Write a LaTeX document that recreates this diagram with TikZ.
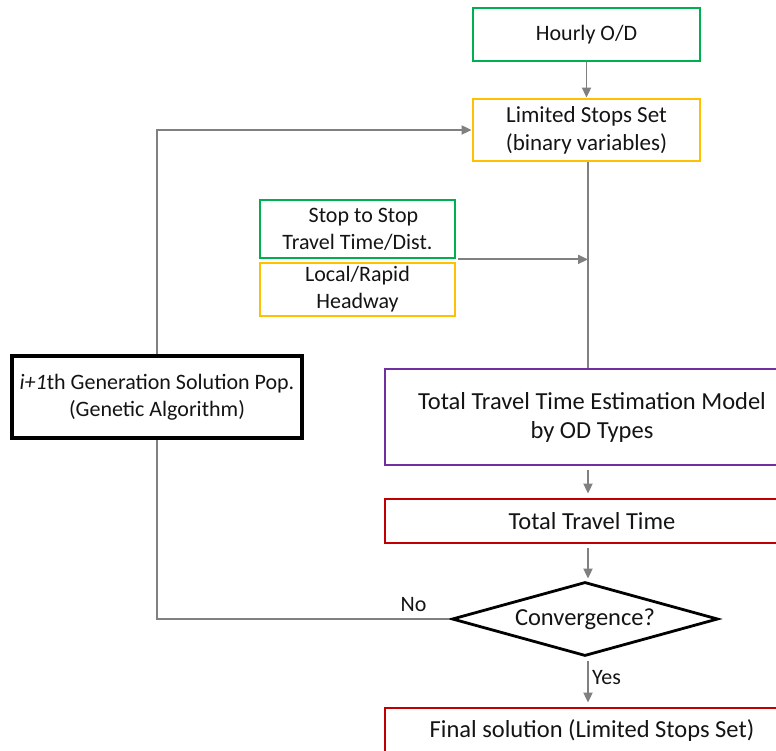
\documentclass[tikz,border=0pt]{standalone}
\usepackage{fontspec}
\setmainfont{Carlito}
\usepackage{xcolor}
\usepackage{tikz}
\usetikzlibrary{arrows.meta,positioning,shapes.geometric}

\definecolor{boxgreen}{HTML}{00B050}
\definecolor{boxorange}{HTML}{FFC000}
\definecolor{boxpurple}{HTML}{7030A0}
\definecolor{boxred}{HTML}{C00000}
\definecolor{flowgray}{HTML}{808080}
\definecolor{txt}{HTML}{141414}

\begin{document}
\begin{tikzpicture}[x=1pt,y=-1pt,font=\fontsize{22}{27}\selectfont,text=txt,
  blk/.style={draw,line width=2.8pt,inner sep=0pt,align=center},
  big/.style={font=\fontsize{24.5}{29}\selectfont},
  flow/.style={draw=flowgray,line width=1.8pt},
  arr/.style={flow,-{Triangle[length=10pt,width=9pt]}}]
\useasboundingbox (0,0) rectangle (776,751);
% --- main column ---
\node[blk,draw=boxgreen,minimum width=227pt,minimum height=53pt] (od) at (586.5,34.5) {Hourly O/D};
\node[blk,draw=boxorange,minimum width=227pt,minimum height=62pt,font=\fontsize{23}{28}\selectfont] (lss) at (586.5,130) {Limited Stops Set\\(binary variables)};
\node[blk,big,draw=boxpurple,minimum width=414pt,minimum height=96pt] (ttm) at (592,417) {Total Travel Time Estimation Model\\by OD Types};
\node[blk,big,draw=boxred,minimum width=414pt,minimum height=44pt] (tt) at (592,521) {Total Travel Time};
\node[blk,big,draw=black,diamond,aspect=3.6,minimum width=266pt,minimum height=74pt] (conv) at (585,619) {Convergence?};
\node[blk,big,draw=boxred,minimum width=414pt,minimum height=46pt] (fin) at (592,731) {Final solution (Limited Stops Set)};
% --- inputs on the left ---
\node[blk,draw=boxgreen,minimum width=195pt,minimum height=58pt] (sts) at (357.5,229) {\hspace{12pt}Stop to Stop\\Travel Time/Dist.};
\node[blk,draw=boxorange,minimum width=195pt,minimum height=53pt] (hw) at (357.5,289.5) {Local/Rapid\\Headway};
% --- GA loop ---
\node[blk,draw=black,line width=3.5pt,minimum width=290pt,minimum height=82pt] (ga) at (157,397) {\textit{i+1}th Generation Solution Pop.\\(Genetic Algorithm)};
% connectors
\draw[arr] (od) -- (lss);
\draw[flow] (lss.south -| ttm.north) ++(-4,0) coordinate (top) -- (top |- ttm.north);
\draw[arr] ([xshift=2pt]sts.south east) -- (sts.south east -| top);
\draw[arr] ([yshift=-4pt]ttm.south -| top) -- ([yshift=4pt]tt.north -| top);
\draw[arr] ([yshift=-4pt]tt.south -| top) -- ([yshift=2pt]conv.north -| top);
\draw[arr] ([yshift=-4pt]conv.south -| top) -- node[right,pos=0.4]{Yes} ([yshift=4pt]fin.north -| top);
\draw[arr] (ga.north) |- (lss.west);
\draw[flow] ([xshift=-2pt]conv.west) -| node[pos=0.06,above=3pt]{No} (ga.south);
\end{tikzpicture}
\end{document}
